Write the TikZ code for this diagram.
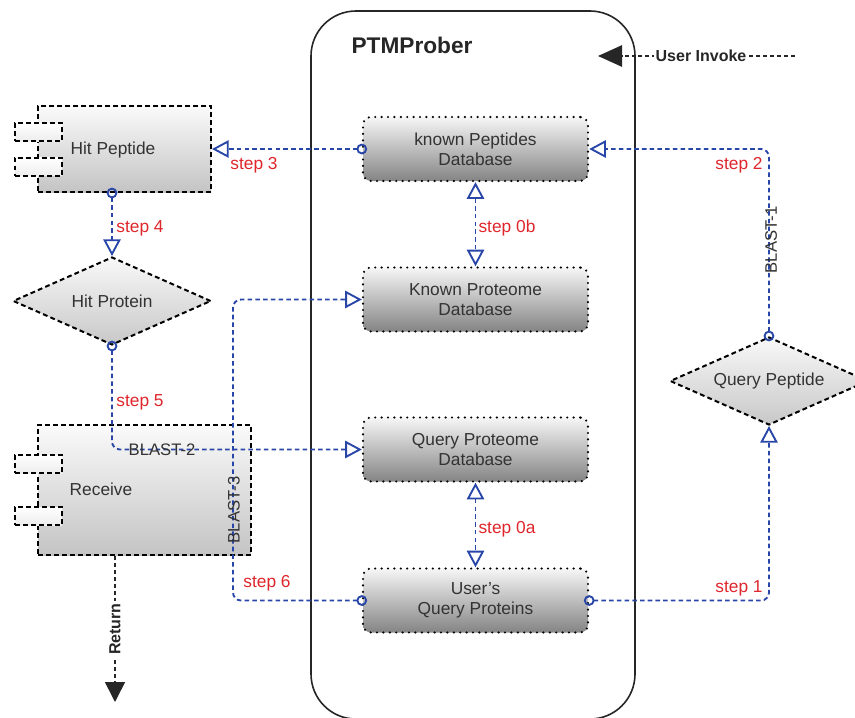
\documentclass[tikz,border=0pt]{standalone}
\usepackage{fontspec}
\setmainfont{Liberation Sans}
\usetikzlibrary{arrows.meta,shapes.geometric}

\definecolor{linkblue}{RGB}{40,70,168}
\definecolor{steptxt}{RGB}{222,38,44}
\definecolor{ink}{RGB}{51,51,51}
\definecolor{dbtop}{RGB}{246,246,246}
\definecolor{dbbot}{RGB}{132,132,132}
\definecolor{comptop}{RGB}{250,250,250}
\definecolor{compbot}{RGB}{196,196,196}
\definecolor{diatop}{RGB}{248,248,248}
\definecolor{diabot}{RGB}{200,200,200}

\tikzset{
  Port/.tip={Circle[open,length=8pt,width=8pt]},
  Flow/.tip={Triangle[open,length=12.5pt,width=13pt]},
  nodetxt/.style={text=ink,font=\fontsize{13}{15}\selectfont},
  dbbox/.style={nodetxt,draw=black,line width=1.8pt,dash pattern=on 0pt off 4.8pt,
    line cap=round,rounded corners=6pt,top color=dbtop,bottom color=dbbot,
    minimum width=168.75pt,minimum height=48pt,inner sep=0pt,align=center},
  dashbd/.style={draw=black,line width=1.5pt,dash pattern=on 3.6pt off 2.4pt},
  compbox/.style={dashbd,top color=comptop,bottom color=compbot,inner sep=0pt},
  portbox/.style={dashbd,top color=white,bottom color=gray!14,
    minimum width=35.25pt,minimum height=13.5pt,inner sep=0pt},
  decision/.style={nodetxt,shape=diamond,aspect=2.25,dashbd,top color=diatop,bottom color=diabot,
    minimum width=148.5pt,minimum height=66pt,inner sep=0pt},
  link/.style={draw=linkblue,line width=1.4pt,dash pattern=on 3.4pt off 2.4pt,
    rounded corners=6pt,shorten <=-4pt},
  flowboth/.style={draw=linkblue,line width=1.4pt,dash pattern=on 3.4pt off 2.4pt,Flow-Flow},
  steplabel/.style={text=steptxt,font=\fontsize{13}{15}\selectfont},
  blastlabel/.style={text=ink,font=\fontsize{12.5}{15}\selectfont,inner sep=0pt},
  boldlabel/.style={text=black!85,font=\bfseries\fontsize{12}{14}\selectfont}
}

\begin{document}
\begin{tikzpicture}[x=0.75pt,y=-0.75pt]
\useasboundingbox (0,0) rectangle (855,717);

% PTMProber container
\node[draw=black!85,line width=1.2pt,rounded corners=33.75pt,
      minimum width=243pt,minimum height=531pt,inner sep=0pt] (ptm) at (473,365) {};
\node[text=black!85,font=\bfseries\fontsize{17}{20}\selectfont] (ptmtitle) at (412,45) {PTMProber};

% databases inside PTMProber
\node[dbbox] (kpep)  at (475.5,149)   {known Peptides\\Database};
\node[dbbox] (kprot) at (475.5,299.5) {Known Proteome\\Database};
\node[dbbox] (qprot) at (475.5,449.5) {Query Proteome\\Database};
\node[dbbox] (uqp)   at (475.5,600.5) {User's\\Query Proteins};

% Hit Peptide component
\node[compbox,minimum width=129.75pt,minimum height=64.5pt] (hitpep) at (124.5,149) {};
\node[portbox] (hitpepA) at (38.5,132) {};
\node[portbox] (hitpepB) at (38.5,166.5) {};
\node[nodetxt] (hitpeptxt) at (113,150) {Hit Peptide};

% Receive component
\node[compbox,minimum width=159.75pt,minimum height=97.5pt] (recv) at (144.5,490) {};
\node[portbox] (recvA) at (38.5,464) {};
\node[portbox] (recvB) at (38.5,516) {};
\node[nodetxt] (recvtxt) at (101,489) {Receive};

% decisions
\node[decision] (hitprot) at (112,301) {Hit Protein};
\node[decision] (qpep) at (769,381) {Query Peptide};

% user invocation
\coordinate (uiA) at (795,56);
\coordinate (uiB) at (598,56);
\draw[black!85,line width=1.2pt,dash pattern=on 3pt off 2.2pt,
      -{Triangle[length=18pt,width=16pt]}]
  (uiA) -- node[boldlabel,fill=white,inner sep=1.5pt,pos=0.477] (uitxt) {User Invoke} (uiB);

% flows
\draw[link,Port-Flow] (kpep.west) -- (hitpep.east);
\draw[link,Port-Flow] (qpep.north) |- (kpep.east);
\draw[flowboth] (kpep.south) -- (kprot.north);
\draw[link,Port-Flow] (hitprot.north |- hitpep.south) -- (hitprot.north);
\draw[link,Port-Flow] (hitprot.south) |- (qprot.west);
\coordinate (b3top) at (233,299.5);
\draw[link,Port-Flow] (uqp.west) -| (b3top) -- (kprot.west);
\draw[flowboth] (qprot.south) -- (uqp.north);
\draw[link,Port-Flow] (uqp.east) -| (qpep.south);

% return
\coordinate (retend) at (115,702);
\draw[black!85,line width=1.2pt,dash pattern=on 3pt off 2.2pt,
      -{Triangle[length=15pt,width=15pt]}]
  (retend |- recv.south) -- node[boldlabel,fill=white,inner sep=1.5pt,rotate=90] (rettxt) {Return} (retend);

% step labels
\node[steplabel] (s0b) at (507,228) {step 0b};
\node[steplabel] (s0a) at (507,529) {step 0a};
\node[steplabel] (s1)  at (739,588) {step 1};
\node[steplabel] (s2)  at (739,165) {step 2};
\node[steplabel] (s3)  at (254,165) {step 3};
\node[steplabel] (s4)  at (140,228) {step 4};
\node[steplabel] (s5)  at (140,402) {step 5};
\node[steplabel] (s6)  at (267,583) {step 6};

% BLAST labels
\node[blastlabel,rotate=90] (bl1) at (771,240) {BLAST-1};
\node[blastlabel] (bl2) at (162,450) {BLAST-2};
\node[blastlabel,rotate=90] (bl3) at (234,510) {BLAST-3};
\end{tikzpicture}
\end{document}
